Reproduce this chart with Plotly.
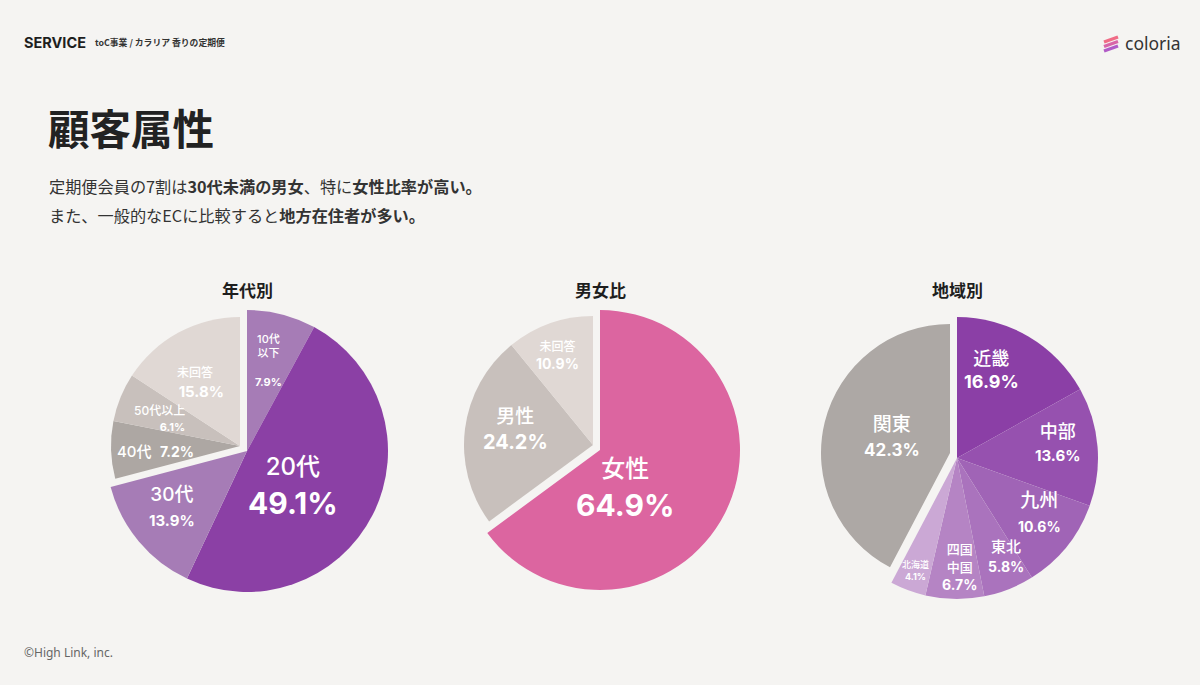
import math
import plotly.graph_objects as go

W, H = 1200, 685

# ---------------- data ----------------
age_labels = ["10代以下", "20代", "30代", "40代", "50代以上", "未回答"]
age_values = [7.9, 49.1, 13.9, 7.2, 6.1, 15.8]
age_pulled = [False, False, False, True, True, True]

gender_labels = ["女性", "男性", "未回答"]
gender_values = [64.9, 24.2, 10.9]
gender_pulled = [False, True, True]

region_labels = ["近畿", "中部", "九州", "東北", "四国中国", "北海道", "関東"]
region_values = [16.9, 13.6, 10.6, 5.8, 6.7, 4.1, 42.3]
region_pulled = [False, False, False, False, False, False, True]

chart_titles = ["年代別", "男女比", "地域別"]

# ---------------- styles ----------------
BG = "#F5F4F2"
DARK = "#262626"
LABEL_FONT = "Inter, 'Noto Sans CJK JP', sans-serif"
JP = "'Noto Sans CJK JP', sans-serif"

age_colors = ["#A67CB6", "#8B40A5", "#A67CB6", "#ADA7A3", "#C8C0BC", "#E0D8D4"]
age_names = ["10代<br>以下", "20代", "30代", "40代", "50代以上", "未回答"]
age_seps = ["<br><br>", "<br>", "<br>", "  ", "<br>", "<br>   "]
age_sizes = [(11, 11), (24, 30), (19, 15), (15, 14), (12, 11), (12, 15)]
age_rf = [0.66, 0.41, 0.66, 0.66, 0.66, 0.60]      # label radius (fraction of r)
age_dth = [-1, 11, 3, -2, -3, -7]                   # label angle tweak (deg)
age_align = ["center", "center", "center", "center", "right", "center"]

gender_colors = ["#DC65A0", "#C8C0BC", "#E0D8D4"]
gender_names = ["女性", "男性", "未回答"]
gender_seps = ["<br>", "<br>", "<br>"]
gender_sizes = [(24, 30), (19, 20), (12, 14)]
gender_rf = [0.33, 0.61, 0.75]
gender_dth = [30, 4, -2]
gender_align = ["center", "center", "center"]

region_colors = ["#8B3FA6", "#9651AF", "#A064B6", "#AA73BD", "#B584C4", "#CBA8D5", "#ADA8A5"]
region_names = ["近畿", "中部", "九州", "東北", "四国<br>中国", "北海道", "関東"]
region_seps = ["<br>", "<br>", "<br>", "<br>", "<br>", "<br>", "<br>"]
region_sizes = [(18, 18), (18, 15), (19, 14), (15, 14), (13, 14), (9, 9), (19, 17)]
region_rf = [0.67, 0.72, 0.70, 0.78, 0.77, 0.85, 0.47]
region_dth = [-9, -4, -6, -5, -2, 0, 1.5]
region_align = ["center", "center", "center", "center", "center", "center", "center"]

# pie geometry (pixels): main centre / radius; pulled group offset / radius
pie_geom = [(247, 451, 141), (600, 450, 140), (957, 458, 141)]
PULL_DX, PULL_DY, PULL_R = -7, -5, 129
TITLE_Y = 289

TRANSPARENT = "rgba(0,0,0,0)"


def dom(cx, cy, r):
    return dict(x=[(cx - r) / W, (cx + r) / W], y=[1 - (cy + r) / H, 1 - (cy - r) / H])


def label_text(name, value, sizes, sep):
    ns, ps = sizes
    return (f"<span style='font-size:{ns}px;font-weight:500'>{name}</span>{sep}"
            f"<span style='font-size:{ps}px'><b>{value:.1f}%</b></span>")


fig = go.Figure()
annotations = []

datasets = [
    (age_labels, age_values, age_pulled, age_colors, age_names, age_seps, age_sizes,
     age_rf, age_dth, age_align),
    (gender_labels, gender_values, gender_pulled, gender_colors, gender_names, gender_seps,
     gender_sizes, gender_rf, gender_dth, gender_align),
    (region_labels, region_values, region_pulled, region_colors, region_names, region_seps,
     region_sizes, region_rf, region_dth, region_align),
]

for (labels, values, pulled, colors, names, seps, sizes, rfs, dths, aligns), (cx, cy, r) in zip(
        datasets, pie_geom):
    for group in (False, True):
        cols = [c if p == group else TRANSPARENT for c, p in zip(colors, pulled)]
        if group:
            d = dom(cx + PULL_DX, cy + PULL_DY, PULL_R)
        else:
            d = dom(cx, cy, r)
        fig.add_trace(go.Pie(
            labels=labels, values=values, sort=False, direction="clockwise", rotation=0,
            marker=dict(colors=cols, line=dict(width=0)),
            textinfo="none", hoverinfo="skip", showlegend=False, domain=d,
        ))
    # slice labels, placed on each slice's bisector
    total = sum(values)
    cum = 0.0
    for v, n, s, sp, rf, dth, al, p in zip(values, names, sizes, seps, rfs, dths, aligns, pulled):
        mid = (cum + v / 2) / total
        cum += v
        th = math.radians(mid * 360 + dth)
        ox, oy, rr = (cx + PULL_DX, cy + PULL_DY, PULL_R) if p else (cx, cy, r)
        lx = ox + rf * rr * math.sin(th)
        ly = oy - rf * rr * math.cos(th)
        annotations.append(dict(
            x=lx / W, y=1 - ly / H, xref="paper", yref="paper",
            text=label_text(n, v, s, sp), showarrow=False, align=al,
            xanchor="center", yanchor="middle",
            font=dict(family=LABEL_FONT, color="white", size=max(s)),
        ))


def add_text(x, y, text, size, color=DARK, family=JP, xanchor="left", yanchor="middle"):
    annotations.append(dict(
        x=x / W, y=1 - y / H, xref="paper", yref="paper", text=text, showarrow=False,
        xanchor=xanchor, yanchor=yanchor, font=dict(size=size, color=color, family=family),
    ))


# header
add_text(22, 42, "<b>SERVICE</b>", 14.5, color="#1E1E1E", family="Inter, Lato, sans-serif")
add_text(93, 43, "<b>toC事業 / カラリア 香りの定期便</b>", 8.8, color="#333333")
add_text(1123, 43, "coloria", 17.5, color="#333333", family="'Noto Sans', sans-serif")

# title & subtitle
add_text(46, 127, "<b>顧客属性</b>", 41.5, color="#222222")
add_text(47, 186, "定期便会員の7割は<b>30代未満の男女</b>、特に<b>女性比率が高い。</b>", 16.2, color="#333333")
add_text(47, 215, "また、一般的なECに比較すると<b>地方在住者が多い。</b>", 16.2, color="#333333")

# chart titles
for t, (cx, cy, r) in zip(chart_titles, pie_geom):
    add_text(cx, TITLE_Y, f"<b>{t}</b>", 17, color="#1E1E1E", xanchor="center")

# footer
add_text(22, 652, "©High Link, inc.", 12, color="#666666", family="'Noto Sans', sans-serif")

# logo icon: three slanted strokes
shapes = []
icon_cols = ["#F06C86", "#D865A8", "#B15BC7"]
for i, c in enumerate(icon_cols):
    y0 = 37 + i * 4.5
    shapes.append(dict(
        type="line", xref="paper", yref="paper",
        x0=1104 / W, y0=1 - (y0 + 5) / H, x1=1118 / W, y1=1 - y0 / H,
        line=dict(color=c, width=3.4),
    ))

fig.update_layout(
    width=W, height=H, margin=dict(l=0, r=0, t=0, b=0),
    paper_bgcolor=BG, plot_bgcolor=BG,
    annotations=annotations, shapes=shapes,
)

fig.write_html(
    "out.html",
    config={"displayModeBar": False},
    post_script=f"document.body.style.margin='0';document.body.style.background='{BG}';",
)
